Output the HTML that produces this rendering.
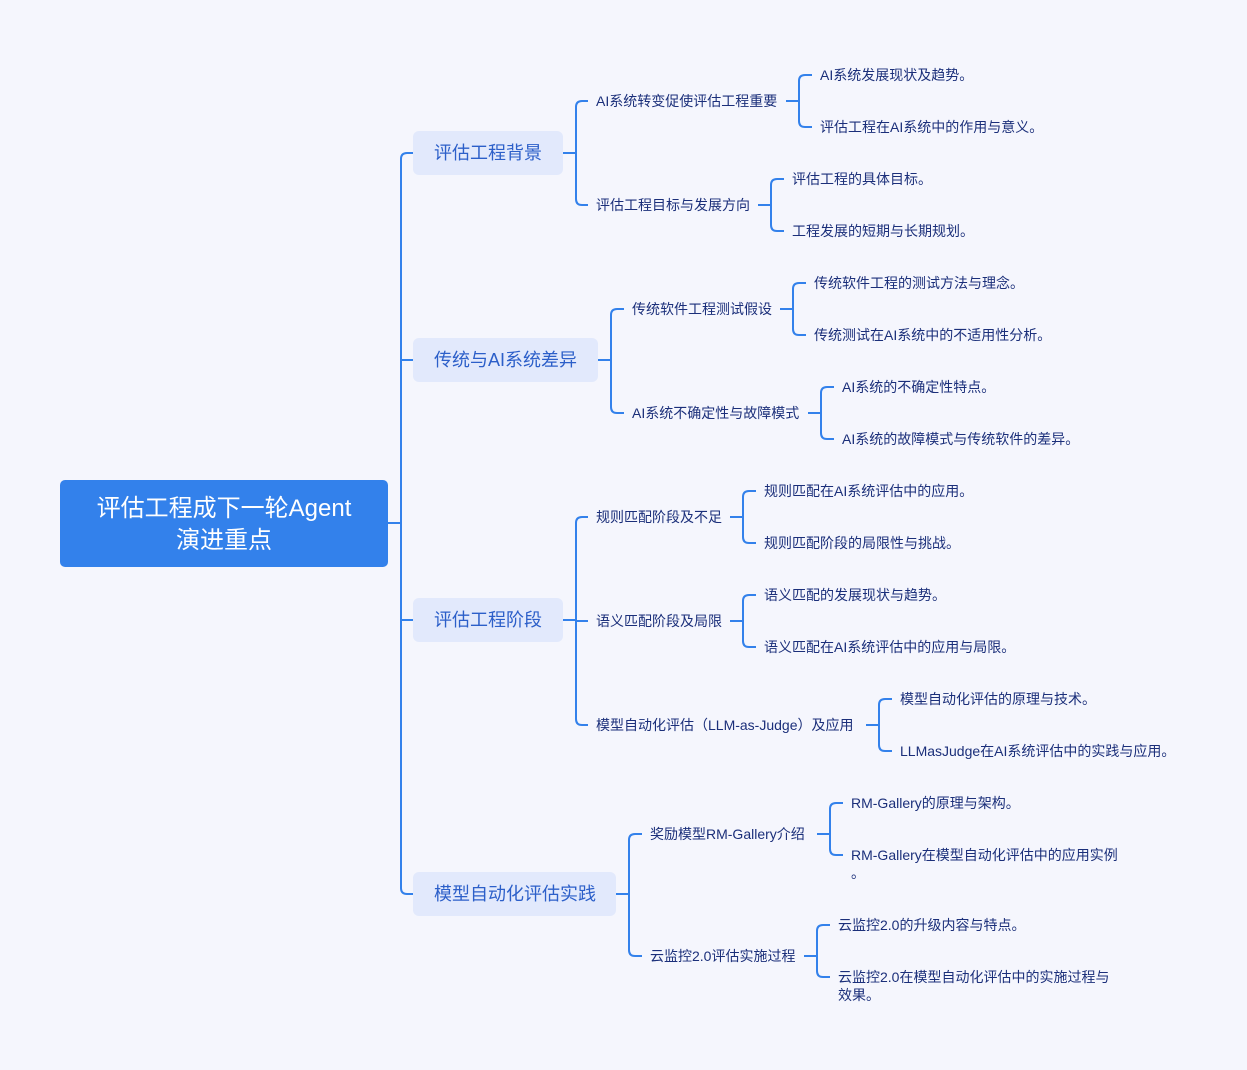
<!DOCTYPE html>
<html><head><meta charset="utf-8"><style>
html,body{margin:0;padding:0;background:#f5f6fd;}
svg{display:block}
text{font-family:"Liberation Sans","Noto Sans CJK SC",sans-serif;}
.l1{font-size:18px;fill:#2c5fc9}
.t{font-size:14px;fill:#1b2f7a}
</style></head><body>
<svg width="1247" height="1070" viewBox="0 0 1247 1070" xmlns="http://www.w3.org/2000/svg">
<rect width="1247" height="1070" fill="#f5f6fd"/>
<g fill="none" stroke="#3381eb" stroke-width="2">
<path d="M388 523H401 M407 153Q401 153 401 159V888Q401 894 407 894H413 M407 153H413 M401 360H413 M401 620H413"/>
<path d="M563 153H576 M582 101Q576 101 576 107V199Q576 205 582 205H588 M582 101H588"/>
<path d="M786 101H799 M805 75Q799 75 799 81V121Q799 127 805 127H812 M805 75H812"/>
<path d="M758 205H771 M777 179Q771 179 771 185V225Q771 231 777 231H784 M777 179H784"/>
<path d="M598 360H611 M617 309Q611 309 611 315V407Q611 413 617 413H624 M617 309H624"/>
<path d="M780 309H793 M799 283Q793 283 793 289V329Q793 335 799 335H806 M799 283H806"/>
<path d="M808 413H821 M827 387Q821 387 821 393V433Q821 439 827 439H834 M827 387H834"/>
<path d="M563 620H576 M582 517Q576 517 576 523V719Q576 725 582 725H588 M582 517H588 M576 621H588"/>
<path d="M730 517H743 M749 491Q743 491 743 497V537Q743 543 749 543H756 M749 491H756"/>
<path d="M730 621H743 M749 595Q743 595 743 601V641Q743 647 749 647H756 M749 595H756"/>
<path d="M866 725H879 M885 699Q879 699 879 705V745Q879 751 885 751H892 M885 699H892"/>
<path d="M616 894H629 M635 834Q629 834 629 840V950Q629 956 635 956H642 M635 834H642"/>
<path d="M817 834H830 M836 803Q830 803 830 809V849Q830 855 836 855H843 M836 803H843"/>
<path d="M804 956H817 M823 925Q817 925 817 931V971Q817 977 823 977H830 M823 925H830"/>
</g>
<rect x="60" y="480" width="328" height="87" rx="5" fill="#3381eb"/>
<text x="224" y="516" text-anchor="middle" font-size="24" fill="#fff">评估工程成下一轮Agent</text>
<text x="224" y="548" text-anchor="middle" font-size="24" fill="#fff">演进重点</text>
<rect x="413" y="131" width="150" height="44" rx="6" fill="#e2e9fc"/>
<text class="l1" x="434" y="159">评估工程背景</text>
<rect x="413" y="338" width="185" height="44" rx="6" fill="#e2e9fc"/>
<text class="l1" x="434" y="366">传统与AI系统差异</text>
<rect x="413" y="598" width="150" height="44" rx="6" fill="#e2e9fc"/>
<text class="l1" x="434" y="626">评估工程阶段</text>
<rect x="413" y="872" width="203" height="44" rx="6" fill="#e2e9fc"/>
<text class="l1" x="434" y="900">模型自动化评估实践</text>
<g class="t">
<text class="t" x="596" y="106">AI系统转变促使评估工程重要</text>
<text class="t" x="820" y="80">AI系统发展现状及趋势。</text>
<text class="t" x="820" y="132">评估工程在AI系统中的作用与意义。</text>
<text class="t" x="596" y="210">评估工程目标与发展方向</text>
<text class="t" x="792" y="184">评估工程的具体目标。</text>
<text class="t" x="792" y="236">工程发展的短期与长期规划。</text>
<text class="t" x="632" y="314">传统软件工程测试假设</text>
<text class="t" x="814" y="288">传统软件工程的测试方法与理念。</text>
<text class="t" x="814" y="340">传统测试在AI系统中的不适用性分析。</text>
<text class="t" x="632" y="418">AI系统不确定性与故障模式</text>
<text class="t" x="842" y="392">AI系统的不确定性特点。</text>
<text class="t" x="842" y="444">AI系统的故障模式与传统软件的差异。</text>
<text class="t" x="596" y="522">规则匹配阶段及不足</text>
<text class="t" x="764" y="496">规则匹配在AI系统评估中的应用。</text>
<text class="t" x="764" y="548">规则匹配阶段的局限性与挑战。</text>
<text class="t" x="596" y="626">语义匹配阶段及局限</text>
<text class="t" x="764" y="600">语义匹配的发展现状与趋势。</text>
<text class="t" x="764" y="652">语义匹配在AI系统评估中的应用与局限。</text>
<text class="t" x="596" y="730">模型自动化评估（LLM-as-Judge）及应用</text>
<text class="t" x="900" y="704">模型自动化评估的原理与技术。</text>
<text class="t" x="900" y="756">LLMasJudge在AI系统评估中的实践与应用。</text>
<text class="t" x="650" y="839">奖励模型RM-Gallery介绍</text>
<text class="t" x="851" y="808">RM-Gallery的原理与架构。</text>
<text class="t" x="851" y="860">RM-Gallery在模型自动化评估中的应用实例</text>
<text class="t" x="851" y="878">。</text>
<text class="t" x="650" y="961">云监控2.0评估实施过程</text>
<text class="t" x="838" y="930">云监控2.0的升级内容与特点。</text>
<text class="t" x="838" y="982">云监控2.0在模型自动化评估中的实施过程与</text>
<text class="t" x="838" y="1000">效果。</text>
</g>
</svg>
</body></html>
